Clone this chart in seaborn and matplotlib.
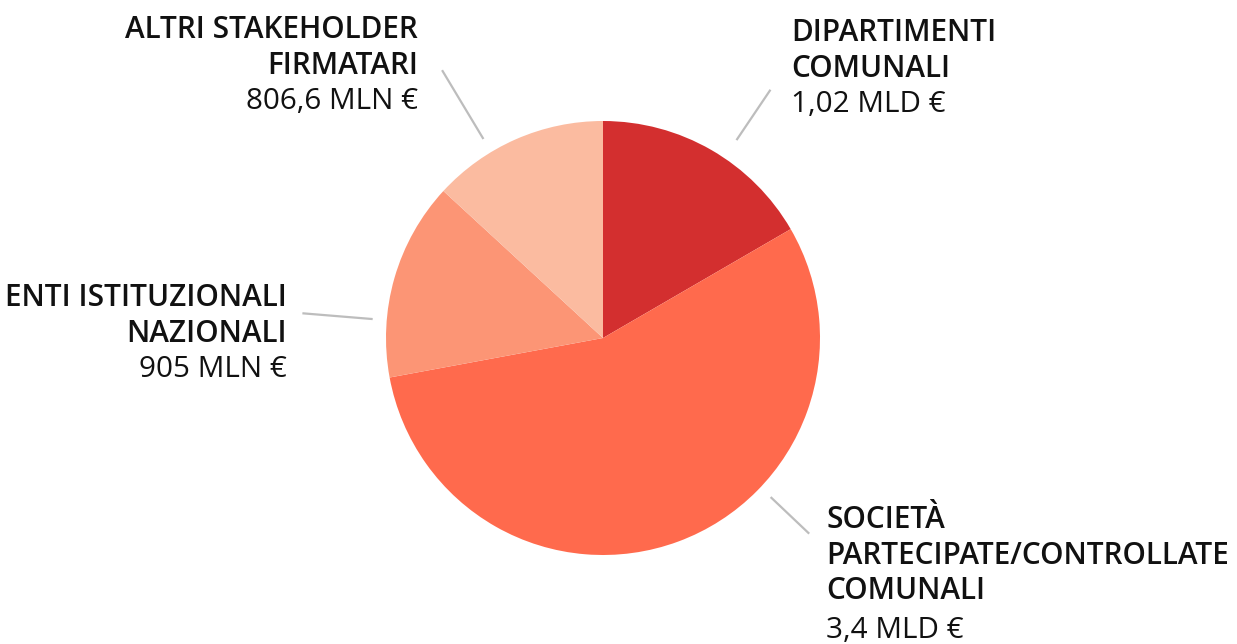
import matplotlib
matplotlib.use("Agg")
import matplotlib.pyplot as plt
import numpy as np
import seaborn as sns

# Fondi per soggetto (milioni di euro), in senso orario dalle ore 12
categories = [
    "DIPARTIMENTI\nCOMUNALI",
    "SOCIETÀ\nPARTECIPATE/CONTROLLATE\nCOMUNALI",
    "ENTI ISTITUZIONALI\nNAZIONALI",
    "ALTRI STAKEHOLDER\nFIRMATARI",
]
values_mln = [1020, 3400, 905, 806.6]
value_labels = ["1,02 MLD €", "3,4 MLD €", "905 MLN €", "806,6 MLN €"]
colors = ["#d32f2f", "#ff6a4d", "#fc9575", "#fbbba0"]

sns.set_theme(style="white")
plt.rcParams["font.family"] = ["Open Sans", "DejaVu Sans"]

W, H = 1237, 644
fig = plt.figure(figsize=(W / 100, H / 100), dpi=100)
ax = fig.add_axes([0, 0, 1, 1])

cx, cy, r = 603, H - 338, 217
wedges, _ = ax.pie(
    values_mln,
    colors=sns.color_palette(colors),
    startangle=90,
    counterclock=False,
    center=(cx, cy),
    radius=r,
    frame=True,
    wedgeprops=dict(linewidth=0),
)
ax.set_xlim(0, W)
ax.set_ylim(0, H)
ax.axis("off")
ax.set_aspect("equal")

# Etichette: posizione del testo (pixel dall'alto), allineamento, direzione e
# estensione della linea guida, spazio extra prima del valore
label_layout = [
    dict(x=791, y=33, ha="left", ang=56, r0=1.10, r1=1.38, gap=0),
    dict(x=826, y=520, ha="left", ang=-43.5, r0=1.065, r1=1.31, gap=4),
    dict(x=287, y=298, ha="right", ang=175.3, r0=1.065, r1=1.39, gap=0),
    dict(x=418, y=30, ha="right", ang=121, r0=1.07, r1=1.44, gap=0),
]

line_h = 35.5
for cat, val, lay in zip(categories, value_labels, label_layout):
    a = np.deg2rad(lay["ang"])
    xs = [cx + lay["r0"] * r * np.cos(a), cx + lay["r1"] * r * np.cos(a)]
    ys = [cy + lay["r0"] * r * np.sin(a), cy + lay["r1"] * r * np.sin(a)]
    ax.plot(xs, ys, color="#bdbdbd", lw=1.6, solid_capstyle="butt")

    lines = cat.split("\n")
    for i, line in enumerate(lines):
        ax.text(lay["x"], H - (lay["y"] + i * line_h), line, ha=lay["ha"], va="center",
                fontsize=21.4, fontweight="semibold", color="#111111")
    ax.text(lay["x"], H - (lay["y"] + len(lines) * line_h + lay["gap"]), val,
            ha=lay["ha"], va="center", fontsize=21.3, color="#111111")

fig.savefig("out.png", dpi=100, facecolor="white")
